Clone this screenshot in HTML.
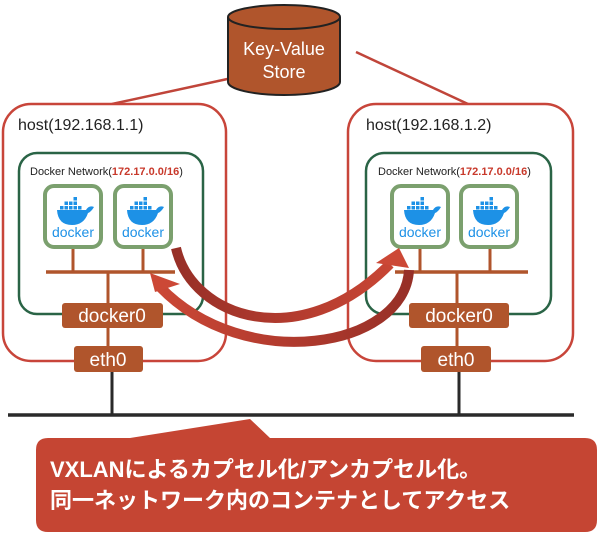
<!DOCTYPE html>
<html><head><meta charset="utf-8"><style>
html,body{margin:0;padding:0;background:#fff;width:600px;height:535px;overflow:hidden}
svg{display:block}
text{font-family:"Liberation Sans","Noto Sans CJK JP",sans-serif}
</style></head><body>
<svg width="600" height="535" viewBox="0 0 600 535" xmlns="http://www.w3.org/2000/svg">
<defs>
<linearGradient id="g1" x1="170" y1="0" x2="410" y2="0" gradientUnits="userSpaceOnUse">
<stop offset="0" stop-color="#962f27"/><stop offset="0.5" stop-color="#b23b2e"/><stop offset="1" stop-color="#cc4836"/></linearGradient>
<linearGradient id="g2" x1="415" y1="0" x2="150" y2="0" gradientUnits="userSpaceOnUse">
<stop offset="0" stop-color="#962f27"/><stop offset="0.5" stop-color="#b23b2e"/><stop offset="1" stop-color="#cc4836"/></linearGradient>
<g id="dk">
<rect x="0" y="0" width="56" height="61" rx="9" fill="#fff" stroke="#7ba06e" stroke-width="4"/>
<g fill="#1d91e6">
<path d="M12,24 L41,24 Q44,19 49,21 Q46,26 43,27 Q39,39 27,39 Q13,39 12,24 Z"/>
<rect x="15" y="20" width="3.5" height="3.5"/><rect x="19.5" y="20" width="3.5" height="3.5"/><rect x="24" y="20" width="3.5" height="3.5"/><rect x="28.5" y="20" width="3.5" height="3.5"/><rect x="33" y="20" width="3.5" height="3.5"/>
<rect x="19.5" y="15.5" width="3.5" height="3.5"/><rect x="24" y="15.5" width="3.5" height="3.5"/><rect x="28.5" y="15.5" width="3.5" height="3.5"/>
<rect x="28.5" y="11" width="3.5" height="3.5"/>
</g>
<text x="28" y="51" font-size="14" fill="#1d91e6" text-anchor="middle">docker</text>
</g>
</defs>
<line x1="232" y1="78" x2="112" y2="104" stroke="#c0453a" stroke-width="2.5"/>
<line x1="356" y1="52" x2="468" y2="104" stroke="#c0453a" stroke-width="2.5"/>
<path d="M228,17 L228,82 A56,13 0 0 0 340,82 L340,17" fill="#b0552c" stroke="#222" stroke-width="2"/>
<ellipse cx="284" cy="17" rx="56" ry="12" fill="#b0552c" stroke="#222" stroke-width="2"/>
<text x="284" y="55" font-size="18" fill="#fff" text-anchor="middle">Key-Value</text>
<text x="284" y="78" font-size="18" fill="#fff" text-anchor="middle">Store</text>
<line x1="8" y1="415" x2="574" y2="415" stroke="#2a2a2a" stroke-width="3.5"/>
<line x1="112" y1="370" x2="112" y2="415" stroke="#2a2a2a" stroke-width="3"/>
<line x1="459" y1="370" x2="459" y2="415" stroke="#2a2a2a" stroke-width="3"/>

<rect x="3" y="104" width="223" height="257" rx="28" fill="#fff" stroke="#c8453a" stroke-width="2.5"/>
<text x="18" y="130" font-size="16" fill="#222">host(192.168.1.1)</text>
<rect x="19" y="153" width="184" height="161" rx="18" fill="#fff" stroke="#2a6446" stroke-width="2.5"/>
<text x="30" y="175" font-size="11" fill="#222">Docker Network(<tspan fill="#c8392b" font-weight="bold">172.17.0.0/16</tspan>)</text>
<line x1="73" y1="247" x2="73" y2="272" stroke="#b0552c" stroke-width="3"/>
<line x1="143" y1="247" x2="143" y2="272" stroke="#b0552c" stroke-width="3"/>
<line x1="46" y1="272" x2="175" y2="272" stroke="#b0552c" stroke-width="3.5"/>
<line x1="108" y1="272" x2="108" y2="346" stroke="#b0552c" stroke-width="3"/>
<use href="#dk" x="45" y="186"/>
<use href="#dk" x="115" y="186"/>
<rect x="62" y="303" width="101" height="25" rx="3" fill="#b0552c"/>
<text x="112" y="322" font-size="19" fill="#fff" text-anchor="middle">docker0</text>
<rect x="74" y="346" width="69" height="26" rx="3" fill="#b0552c"/>
<text x="108" y="366" font-size="19" fill="#fff" text-anchor="middle">eth0</text>

<rect x="348" y="104" width="225" height="257" rx="28" fill="#fff" stroke="#c8453a" stroke-width="2.5"/>
<text x="366" y="130" font-size="16" fill="#222">host(192.168.1.2)</text>
<rect x="366" y="153" width="185" height="161" rx="18" fill="#fff" stroke="#2a6446" stroke-width="2.5"/>
<text x="378" y="175" font-size="11" fill="#222">Docker Network(<tspan fill="#c8392b" font-weight="bold">172.17.0.0/16</tspan>)</text>
<line x1="420" y1="247" x2="420" y2="272" stroke="#b0552c" stroke-width="3"/>
<line x1="490" y1="247" x2="490" y2="272" stroke="#b0552c" stroke-width="3"/>
<line x1="395" y1="272" x2="528" y2="272" stroke="#b0552c" stroke-width="3.5"/>
<line x1="457" y1="272" x2="457" y2="346" stroke="#b0552c" stroke-width="3"/>
<use href="#dk" x="392" y="186"/>
<use href="#dk" x="461" y="186"/>
<rect x="409" y="303" width="100" height="25" rx="3" fill="#b0552c"/>
<text x="459" y="322" font-size="19" fill="#fff" text-anchor="middle">docker0</text>
<rect x="421" y="346" width="70" height="26" rx="3" fill="#b0552c"/>
<text x="456" y="366" font-size="19" fill="#fff" text-anchor="middle">eth0</text>

<path d="M176,248 C192,318 300,355 390,264" fill="none" stroke="url(#g1)" stroke-width="10"/>
<polygon points="399,248 376,263 409,268" fill="#cc4836"/>
<path d="M409,270 C405,348 245,375 160,287" fill="none" stroke="url(#g2)" stroke-width="10"/>
<polygon points="150,273 155,292 180,284" fill="#cc4836"/>

<path d="M48,438 L130,438 L250,419 L270,438 L585,438 Q597,438 597,450 L597,520 Q597,532 585,532 L48,532 Q36,532 36,520 L36,450 Q36,438 48,438 Z" fill="#c54533"/>
<text x="50" y="477" font-size="22" font-weight="bold" fill="#fff">VXLANによるカプセル化/アンカプセル化。</text>
<text x="50" y="508" font-size="22" font-weight="bold" fill="#fff">同一ネットワーク内のコンテナとしてアクセス</text>
</svg>
</body></html>
